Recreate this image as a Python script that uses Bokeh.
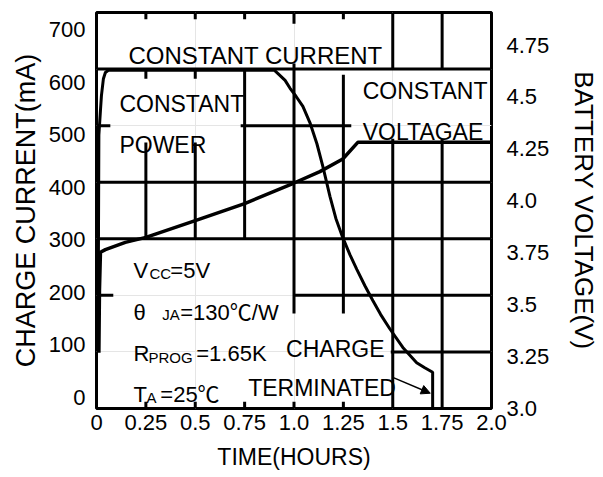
from bokeh.plotting import figure
from bokeh.models import Range1d, LinearAxis, FixedTicker, Arrow, NormalHead
from bokeh.core.properties import value
from bokeh.embed import file_html
from bokeh.resources import INLINE

# ---------------- data ----------------
# charge current (mA) vs time (hours)
time_current = [0.008, 0.01, 0.012, 0.02, 0.025, 0.035, 0.045, 0.06, 0.90, 0.919, 0.955, 0.98,
                1.01, 1.045, 1.081, 1.116, 1.146, 1.182, 1.212, 1.247, 1.283, 1.318, 1.359,
                1.399, 1.439, 1.485, 1.551, 1.621, 1.662, 1.702, 1.702]
current_ma = [100, 300, 483, 527, 553, 583, 594, 598, 598, 592, 580, 566,
              552, 534, 505, 468, 428, 375, 336, 302, 272, 246, 217,
              191, 166, 141, 108, 81, 72, 64, 0]

# battery voltage (V) vs time (hours)
time_voltage = [0.012, 0.015, 0.02, 0.045, 0.146, 0.25, 0.5, 0.75, 1.0, 1.131, 1.247, 1.323, 2.0]
battery_v = [3.267, 3.567, 3.751, 3.764, 3.799, 3.823, 3.904, 3.986, 4.085, 4.14, 4.201, 4.281, 4.281]

x_ticks = [0, 0.25, 0.5, 0.75, 1.0, 1.25, 1.5, 1.75, 2.0]
x_tick_labels = ["0", "0.25", "0.5", "0.75", "1.0", "1.25", "1.5", "1.75", "2.0"]
current_ticks = [0, 100, 200, 300, 400, 500, 600, 700]
voltage_ticks = [3.0, 3.25, 3.5, 3.75, 4.0, 4.25, 4.5, 4.75]
voltage_tick_labels = ["3.0", "3.25", "3.5", "3.75", "4.0", "4.25", "4.5", "4.75"]

# printed grid of the datasheet chart (hours, mA), partial segments
grid_h_y = [600, 500, 500, 400, 300, 200, 200, 100]
grid_h_x0 = [0, 0, 0.73, 0, 0, 0, 1.0, 1.49]
grid_h_x1 = [2, 0.07, 1.29, 2, 2, 0.085, 2, 2]

grid_v_x = [0.25, 0.25, 0.25, 0.25, 0.5, 0.5, 0.5, 0.5, 0.75, 0.75, 0.75,
            1.0, 1.0, 1.0, 1.25, 1.25, 1.25, 1.5, 1.5, 1.75, 1.75]
grid_v_y0 = [700, 602, 470, 12, 700, 602, 470, 12, 700, 600, 12,
             700, 610, 12, 700, 590, 12, 700, 477, 700, 477]
grid_v_y1 = [688, 583, 300, 0, 688, 583, 300, 0, 688, 300, 0,
             680, 168, 0, 688, 168, 0, 600, 0, 600, 0]

FONT = "Liberation Sans"
FONT_MIX = "'Liberation Sans', 'Noto Sans CJK SC'"

p = figure(width=602, height=476,
           x_range=Range1d(0, 2), y_range=Range1d(0, 700),
           x_axis_location=None, y_axis_location=None,
           output_backend="svg", toolbar_location=None,
           min_border_left=96, min_border_right=110,
           min_border_top=12, min_border_bottom=68)
p.extra_y_ranges = {"ilab": Range1d(-21, 733), "volt": Range1d(2.998, 4.907)}
p.background_fill_color = "white"
p.border_fill_color = "white"
p.outline_line_color = "black"
p.outline_line_width = 3
p.outline_line_alpha = 1.0


def style_axis(ax, label_size, title_size):
    ax.axis_line_color = None
    ax.major_tick_line_color = None
    ax.minor_tick_line_color = None
    ax.major_tick_out = 0
    ax.major_tick_in = 0
    ax.minor_tick_out = 0
    ax.minor_tick_in = 0
    ax.major_label_text_font = FONT
    ax.major_label_text_font_size = label_size
    ax.major_label_text_color = "black"
    ax.axis_label_text_font = FONT
    ax.axis_label_text_font_size = title_size
    ax.axis_label_text_font_style = "normal"
    ax.axis_label_text_color = "black"


xaxis = LinearAxis(ticker=FixedTicker(ticks=x_ticks),
                   major_label_overrides=dict(zip(x_ticks, x_tick_labels)),
                   axis_label="TIME(HOURS)")
style_axis(xaxis, "22px", "23px")
xaxis.major_label_standoff = 6
xaxis.axis_label_standoff = 11
p.add_layout(xaxis, "below")

yleft = LinearAxis(y_range_name="ilab", ticker=FixedTicker(ticks=current_ticks),
                   axis_label="CHARGE CURRENT(mA)")
style_axis(yleft, "22px", "27px")
yleft.major_label_standoff = 11
yleft.axis_label_standoff = 5
p.add_layout(yleft, "left")

yright = LinearAxis(y_range_name="volt", ticker=FixedTicker(ticks=voltage_ticks),
                    major_label_overrides=dict(zip(voltage_ticks, voltage_tick_labels)),
                    axis_label="BATTERY VOLTAGE(V)")
style_axis(yright, "22px", "26px")
yright.major_label_standoff = 15
yright.axis_label_standoff = 17
p.add_layout(yright, "right")

# grid
p.segment(x0=grid_h_x0, y0=grid_h_y, x1=grid_h_x1, y1=grid_h_y,
          line_color="black", line_width=3, line_cap="butt")
p.segment(x0=grid_v_x, y0=grid_v_y0, x1=grid_v_x, y1=grid_v_y1,
          line_color="black", line_width=3, line_cap="butt")

# curves
p.line(time_current, current_ma, line_color="black", line_width=3)
p.line(time_voltage, battery_v, y_range_name="volt", line_color="black", line_width=3.5)

# annotations
p.text(x=[0.162], y=[624], text=["CONSTANT CURRENT"], text_font=value(FONT),
       text_font_size="24px", text_color="black", text_baseline="alphabetic", text_align="left")
p.text(x=[0.116, 0.116, 1.348, 1.348, 0.96, 0.768],
       y=[539, 465, 562, 488, 106, 37],
       text=["CONSTANT", "POWER", "CONSTANT", "VOLTAGAE", "CHARGE", "TERMINATED"],
       text_font=value(FONT), text_font_size="23px", text_color="black",
       text_baseline="alphabetic", text_align="left")
p.text(x=[0.187, 0.374, 0.187, 0.424, 0.187, 0.505, 0.187, 0.323],
       y=[244, 244, 170, 170, 97, 97, 25, 25],
       text=["V", "=5V", "θ", "=130℃/W", "R", "=1.65K", "T", "=25℃"],
       text_font=value(FONT_MIX), text_font_size="22px", text_color="black",
       text_baseline="alphabetic", text_align="left")
p.text(x=[0.268, 0.333, 0.263, 0.253],
       y=[239, 166, 90, 19],
       text=["CC", "JA", "PROG", "A"],
       text_font=value(FONT), text_font_size="15px", text_color="black",
       text_baseline="alphabetic", text_align="left")

p.add_layout(Arrow(end=NormalHead(size=9, fill_color="black", line_color="black"),
                   x_start=1.50, y_start=55, x_end=1.69, y_end=27,
                   line_color="black", line_width=1.5))

open("out.html", "w").write(file_html(p, INLINE))
